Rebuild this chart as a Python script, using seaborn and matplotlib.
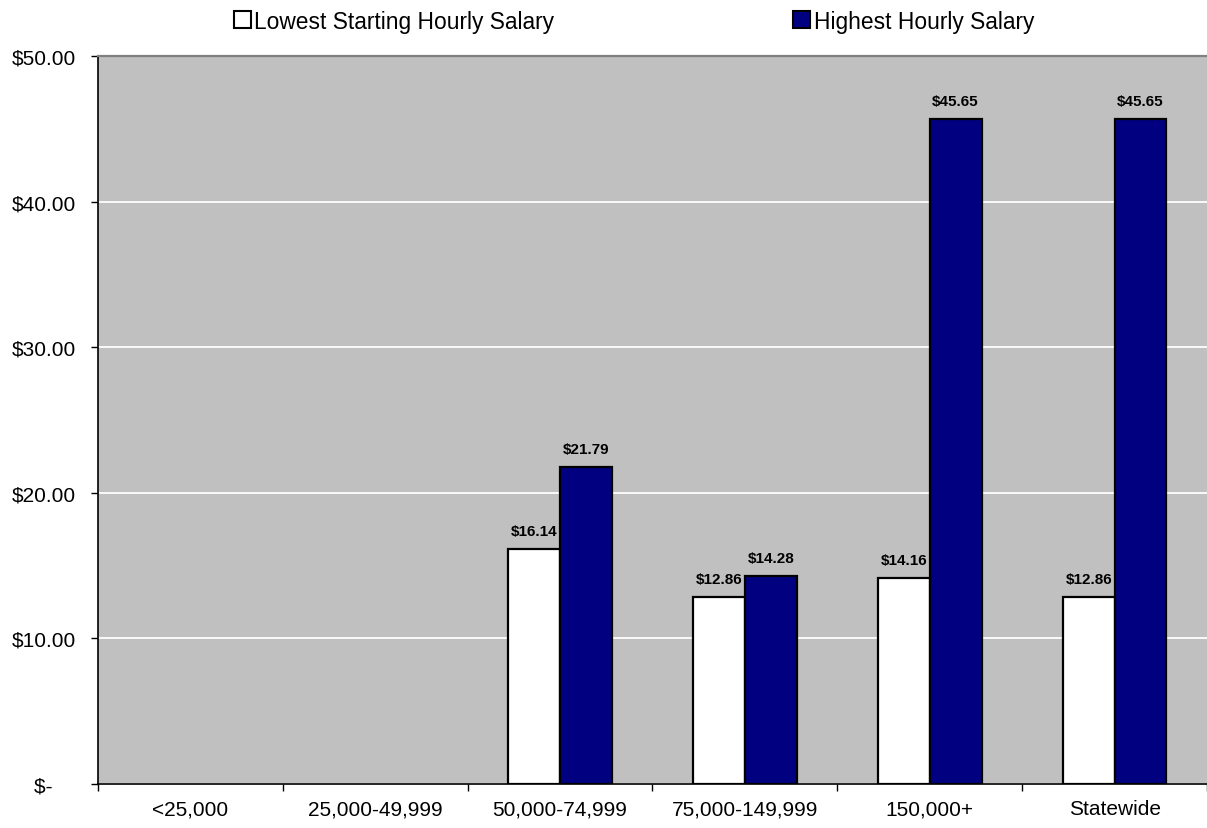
import matplotlib
matplotlib.use("Agg")
import matplotlib.pyplot as plt
import numpy as np
import pandas as pd
import seaborn as sns
from matplotlib.patches import Patch

categories = ["<25,000", "25,000-49,999", "50,000-74,999", "75,000-149,999", "150,000+", "Statewide"]
series = ["Lowest Starting Hourly Salary", "Highest Hourly Salary"]
lowest = [None, None, 16.14, 12.86, 14.16, 12.86]
highest = [None, None, 21.79, 14.28, 45.65, 45.65]
yticks = [0, 10, 20, 30, 40, 50]
ytick_labels = ["$-    ", "$10.00", "$20.00", "$30.00", "$40.00", "$50.00"]

colors = {series[0]: "#FFFFFF", series[1]: "#000080"}

rows = []
for cat, lo, hi in zip(categories, lowest, highest):
    if lo is not None:
        rows.append({"category": cat, "series": series[0], "value": lo})
    if hi is not None:
        rows.append({"category": cat, "series": series[1], "value": hi})
df = pd.DataFrame(rows)

sns.set_style("white")
plt.rcParams["font.family"] = ["Liberation Sans", "DejaVu Sans"]
plt.rcParams["text.color"] = "black"
plt.rcParams["xtick.color"] = "black"
plt.rcParams["ytick.color"] = "black"

fig = plt.figure(figsize=(12.07, 8.29), dpi=100)
ax = fig.add_axes([98 / 1207, 1 - 785 / 829, 1 - 98 / 1207, (785 - 57) / 829])
ax.set_facecolor("#C0C0C0")

sns.barplot(data=df, x="category", y="value", hue="series",
            order=categories, hue_order=series, palette=colors,
            saturation=1, width=0.56, gap=0, edgecolor="black",
            linewidth=1.6, errorbar=None, legend=False, ax=ax, zorder=3)

for cont in ax.containers:
    ax.bar_label(cont, fmt="${:.2f}", padding=8, fontsize=11,
                 fontweight="bold", color="black")

ax.set_ylim(0, 50)
ax.set_xlim(-0.5, len(categories) - 0.5)
ax.set_yticks(yticks)
ax.set_yticklabels(ytick_labels, fontsize=15)
ax.set_xticks(range(len(categories)))
ax.set_xticklabels(categories, fontsize=15)
ax.set_xticks(np.arange(-0.5, len(categories), 1.0), minor=True)
ax.tick_params(axis="x", which="major", bottom=True, length=0, pad=11)
ax.tick_params(axis="x", which="minor", bottom=True, length=5, width=1,
               color="black", direction="out")
ax.tick_params(axis="y", which="major", left=True, length=5, width=1,
               color="black", pad=11, direction="out")
ax.set_xlabel("")
ax.set_ylabel("")

ax.yaxis.grid(True, color="white", linewidth=1.3, zorder=0)
ax.set_axisbelow(True)

for side in ["left", "bottom"]:
    ax.spines[side].set_color("black")
    ax.spines[side].set_linewidth(1.2)
ax.spines["top"].set_visible(True)
ax.spines["top"].set_color("#808080")
ax.spines["top"].set_linewidth(1.6)
ax.spines["right"].set_visible(False)

handles = [Patch(facecolor=colors[s], edgecolor="black", linewidth=1.5) for s in series]
fig.legend(handles, series, loc="center", ncol=2,
           bbox_to_anchor=(634 / 1207, 1 - 22 / 829), frameon=False,
           fontsize=16.4, handlelength=0.75, handleheight=0.75,
           handletextpad=0.15, columnspacing=10.5, borderpad=0)

fig.savefig("out.png", dpi=100)
